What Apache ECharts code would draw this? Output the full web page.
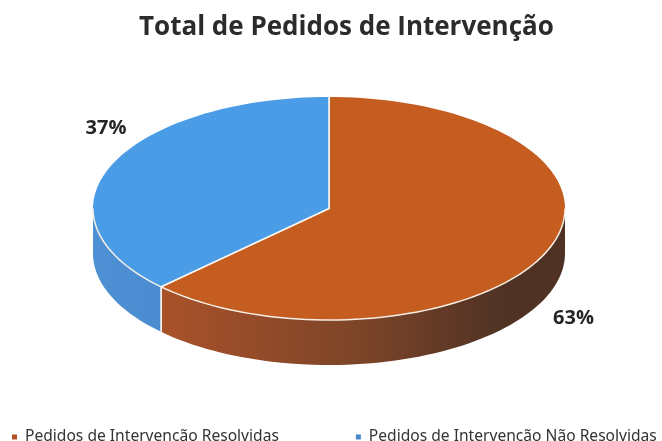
<!DOCTYPE html>
<html><head><meta charset="utf-8">
<style>html,body{margin:0;padding:0;background:#fff}#c{width:662px;height:441px}</style>
<script src="https://cdn.jsdelivr.net/npm/echarts@6/dist/echarts.min.js"></script>
</head><body><div id="c"></div>
<script>
const titleText = 'Total de Pedidos de Intervenção';
const categories = ['Pedidos de Intervenção Resolvidas', 'Pedidos de Intervenção Não Resolvidas'];
const values = [62.6, 37.4];
const topColors = ['#c55c20', '#4a9ce6'];
const sideColors = [['#a9522a', '#7c4428', '#4f3224'], ['#4d90d3', '#4a8ccf']];
const legendColors = ['#b5512a', '#4a86cc'];
const labelAnchors = [[573.5, 318.5], [106, 128.5]];

const cx = 329, cy = 208.5, rx = 236, ry = 111.5, depth = 45;
const total = values.reduce((a, b) => a + b, 0);
const pt = (deg, dy) => {
  const r = deg * Math.PI / 180;
  return [cx + rx * Math.sin(r), cy - ry * Math.cos(r) + (dy || 0)];
};
const arc = (a, b, dy) => {
  const n = Math.max(2, Math.ceil(Math.abs(b - a) / 2)), out = [];
  for (let i = 0; i <= n; i++) out.push(pt(a + (b - a) * i / n, dy));
  return out;
};

function makeRender(idx) {
  return function (params, api) {
    const v = api.value(0);
    const before = values.slice(0, idx).reduce((a, b) => a + b, 0);
    const start = before / total * 360, end = (before + v) / total * 360;
    const children = [];
    const a = Math.max(start, 90), b = Math.min(end, 270);
    const rim = '#f6efe6';
    children.push({
      type: 'polygon',
      shape: { points: arc(a, b, 0).concat(arc(b, a, depth)) },
      style: {
        fill: {
          type: 'linear', x: 0, y: 0, x2: 1, y2: 0,
          colorStops: idx === 0
            ? [{ offset: 0, color: sideColors[0][0] }, { offset: 0.5, color: sideColors[0][1] }, { offset: 0.85, color: sideColors[0][2] }, { offset: 1, color: sideColors[0][2] }]
            : [{ offset: 0, color: sideColors[1][0] }, { offset: 1, color: sideColors[1][1] }]
        }
      }
    });
    children.push({
      type: 'polygon',
      shape: { points: [[cx, cy]].concat(arc(start, end, 0)) },
      style: { fill: topColors[idx] }
    });
    children.push({
      type: 'polyline',
      shape: { points: arc(a, b, 0) },
      style: { fill: 'none', stroke: rim, lineWidth: 1.5 }
    });
    const seam = idx === 0 ? end : start;
    children.push({
      type: 'polyline',
      shape: { points: [pt(seam, depth), pt(seam, 0), [cx, cy], pt(idx === 0 ? start : end, 0)] },
      style: { fill: 'none', stroke: '#f7f5f0', lineWidth: 1.6 }
    });
    children.push({
      type: 'text',
      style: {
        text: Math.round(v / total * 100) + '%',
        x: labelAnchors[idx][0], y: labelAnchors[idx][1],
        align: 'center', verticalAlign: 'middle',
        fill: '#262626', font: 'bold 20px "Open Sans"'
      }
    });
    return { type: 'group', children };
  };
}

const chart = echarts.init(document.getElementById('c'));
chart.setOption({
  animation: false,
  backgroundColor: '#ffffff',
  title: {
    text: titleText, left: 134, top: 10,
    textStyle: { fontFamily: 'Open Sans', fontWeight: 'bold', fontSize: 26, color: '#2b2b2b' }
  },
  legend: {
    data: categories, left: 12, top: 429, padding: 0, itemWidth: 5, itemHeight: 5, itemGap: 77,
    icon: 'rect',
    textStyle: { fontFamily: 'Noto Sans', fontSize: 15.6, color: '#333333', padding: [0, 0, 0, 3] }
  },
  series: categories.map((name, i) => ({
    type: 'custom', name, coordinateSystem: 'none',
    itemStyle: { color: legendColors[i] },
    renderItem: makeRender(i),
    data: [[values[i]]]
  }))
});
</script></body></html>
